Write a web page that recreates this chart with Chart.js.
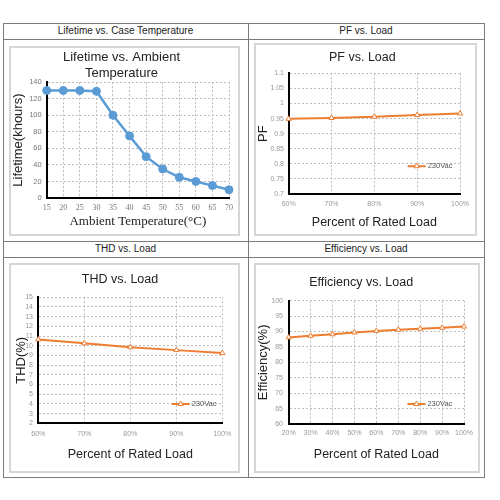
<!DOCTYPE html>
<html><head><meta charset="utf-8">
<script src="https://cdn.jsdelivr.net/npm/chart.js@4/dist/chart.umd.min.js"></script>
<style>
body{margin:0;width:500px;height:500px;background:#fff;position:relative;overflow:hidden;font-family:"Liberation Sans",Arial,sans-serif;}
.ln{position:absolute;background:#7a7a7a;}
.hdr{position:absolute;text-align:center;font-size:10px;color:#222;height:16px;line-height:16px;}
.box{position:absolute;border:2px solid #d6d6d6;box-sizing:border-box;}
.box canvas{position:absolute;left:0;top:0;}
</style>
</head><body>
<div class="ln" style="left:3px;top:23px;width:482px;height:1px"></div>
<div class="ln" style="left:3px;top:39px;width:482px;height:1px"></div>
<div class="ln" style="left:3px;top:241px;width:482px;height:1px"></div>
<div class="ln" style="left:3px;top:257px;width:482px;height:1px"></div>
<div class="ln" style="left:3px;top:477px;width:482px;height:1px"></div>
<div class="ln" style="left:3px;top:23px;width:1px;height:455px"></div>
<div class="ln" style="left:248px;top:23px;width:1px;height:455px"></div>
<div class="ln" style="left:484px;top:23px;width:1px;height:455px"></div>
<div class="hdr" style="left:3px;top:23px;width:245px">Lifetime vs. Case Temperature</div>
<div class="hdr" style="left:248px;top:23px;width:236px">PF vs. Load</div>
<div class="hdr" style="left:3px;top:241px;width:245px">THD vs. Load</div>
<div class="hdr" style="left:248px;top:241px;width:236px">Efficiency vs. Load</div>

<div class="box" style="left:9px;top:46px;width:231px;height:190px"><canvas id="c1" width="227" height="186"></canvas></div>
<div class="box" style="left:254px;top:43px;width:223px;height:193px"><canvas id="c2" width="219" height="189"></canvas></div>
<div class="box" style="left:9px;top:263px;width:231px;height:210px"><canvas id="c3" width="227" height="206"></canvas></div>
<div class="box" style="left:254px;top:263px;width:226px;height:210px"><canvas id="c4" width="222" height="206"></canvas></div>

<script>
// ---- data ----
const lifeTemps = ['15','20','25','30','35','40','45','50','55','60','65','70'];
const lifeHours = [130,130,130,129,100,75,50,35,25,20,15,10];
const pfLoads = ['60%','70%','80%','90%','100%'];
const pfValues = [0.949,0.952,0.956,0.962,0.967];
const thdLoads = ['60%','70%','80%','90%','100%'];
const thdValues = [10.65,10.25,9.85,9.55,9.25];
const effLoads = ['20%','30%','40%','50%','60%','70%','80%','90%','100%'];
const effValues = [88.1,88.6,89.1,89.7,90.2,90.6,90.9,91.2,91.6];
const seriesName = '230Vac';

const SANS = '"Liberation Sans", Arial, sans-serif';
const SERIF = '"Liberation Serif", "Times New Roman", serif';
Chart.defaults.animation = false;
Chart.defaults.font.family = SANS;

const legendPlugin = {
  id: 'innerLegend',
  afterDatasetsDraw(chart, args, opts) {
    if (!opts || !opts.display) return;
    const ctx = chart.ctx, a = chart.chartArea;
    const ds = chart.data.datasets[0];
    const x0 = a.right - opts.fromRight;
    const y = a.top + opts.yFrac * (a.bottom - a.top);
    ctx.save();
    ctx.strokeStyle = ds.borderColor;
    ctx.lineWidth = 2;
    ctx.beginPath(); ctx.moveTo(x0, y); ctx.lineTo(x0 + opts.lineLen, y); ctx.stroke();
    ctx.fillStyle = '#fff';
    ctx.lineWidth = 1;
    Chart.helpers.drawPoint(ctx, {pointStyle: ds.pointStyle, radius: ds.pointRadius, borderWidth: 1, rotation: 0}, x0 + opts.lineLen / 2, y);
    ctx.fillStyle = '#555';
    ctx.font = '7.5px ' + SANS;
    ctx.textBaseline = 'middle';
    ctx.textAlign = 'left';
    ctx.fillText(ds.label, x0 + opts.lineLen + 2, y);
    ctx.restore();
  }
};

const tickFmt = v => String(Number(Number(v).toFixed(3)));

function build(id, o) {
  const gridColor = c => (c.index === 0 ? 'rgba(0,0,0,0)' : '#bdbdbd');
  return new Chart(document.getElementById(id), {
    type: 'line',
    data: {
      labels: o.labels,
      datasets: [{
        label: o.name, data: o.values,
        borderColor: o.color, backgroundColor: o.pointFill,
        borderWidth: o.lineWidth, tension: 0, clip: false,
        pointStyle: o.pointStyle, pointRadius: o.pointRadius,
        pointBorderColor: o.color, pointBackgroundColor: o.pointFill, pointBorderWidth: 1
      }]
    },
    options: {
      responsive: false, animation: false,
      layout: {autoPadding: false, padding: {left: 0, right: o.padR, top: 0, bottom: 0}},
      plugins: {
        legend: {display: false}, tooltip: {enabled: false},
        title: {display: true, text: o.title, color: '#222',
          font: {size: o.titleSize, weight: 'normal', lineHeight: 1.2},
          padding: {top: o.titleTop, bottom: o.titleBottom}},
        innerLegend: o.legend || {display: false}
      },
      scales: {
        x: {
          offset: false,
          afterFit: s => { s.height = o.xH; },
          grid: {color: gridColor, lineWidth: 1, drawTicks: false},
          border: {color: '#000', width: 2, dash: [2, 2]},
          ticks: {color: o.xTickColor, font: {size: o.xTickSize, family: o.xTickFamily || SANS}, padding: o.xTickPad, maxRotation: 0, autoSkip: false},
          title: {display: true, text: o.xTitle, color: '#222', font: {size: o.xTitleSize, family: o.xTitleFamily || SANS}, padding: {top: 0, bottom: o.xTitlePad}}
        },
        y: {
          min: o.yMin, max: o.yMax,
          afterFit: s => { s.width = o.yW; },
          grid: {color: gridColor, lineWidth: 1, drawTicks: false},
          border: {color: '#000', width: 2, dash: [2, 2]},
          ticks: {stepSize: o.yStep, color: o.yTickColor, font: {size: o.yTickSize}, padding: o.yTickPad, autoSkip: false, callback: tickFmt},
          title: {display: true, text: o.yTitle, color: '#222', font: {size: o.yTitleSize}, padding: {top: o.yTitlePad, bottom: 0}}
        }
      }
    },
    plugins: [legendPlugin]
  });
}

build('c1', {
  labels: lifeTemps, values: lifeHours, name: 'Lifetime',
  color: '#5B9BD5', pointFill: '#5B9BD5', lineWidth: 2.5, pointStyle: 'circle', pointRadius: 4,
  title: ['Lifetime vs. Ambient', 'Temperature'], titleSize: 13, titleTop: 2, titleBottom: 1,
  padR: 6, xH: 36, yW: 35.7,
  xTickColor: '#777', xTickSize: 8, xTickFamily: SERIF, xTickPad: 5,
  xTitle: 'Ambient Temperature(°C)', xTitleSize: 13, xTitleFamily: SERIF, xTitlePad: 5,
  yMin: 0, yMax: 140, yStep: 20, yTickColor: '#777', yTickSize: 7.5, yTickPad: 5,
  yTitle: 'Lifetime(khours)', yTitleSize: 13, yTitlePad: 0
});

build('c2', {
  labels: pfLoads, values: pfValues, name: seriesName,
  color: '#ED7D31', pointFill: '#fff', lineWidth: 2, pointStyle: 'triangle', pointRadius: 3,
  title: 'PF vs. Load', titleSize: 12.5, titleTop: 5.5, titleBottom: 7.8,
  padR: 6.3, xH: 40, yW: 32.7,
  xTickColor: '#999', xTickSize: 7, xTickPad: 6,
  xTitle: 'Percent of Rated Load', xTitleSize: 12.5, xTitlePad: 4.2,
  yMin: 0.7, yMax: 1.1, yStep: 0.05, yTickColor: '#999', yTickSize: 7, yTickPad: 4.7,
  yTitle: 'PF', yTitleSize: 13, yTitlePad: 0,
  legend: {display: true, fromRight: 52.4, yFrac: 0.77, lineLen: 18}
});

build('c3', {
  labels: thdLoads, values: thdValues, name: seriesName,
  color: '#ED7D31', pointFill: '#fff', lineWidth: 2, pointStyle: 'triangle', pointRadius: 3,
  title: 'THD vs. Load', titleSize: 12.5, titleTop: 7.5, titleBottom: 9.8,
  padR: 9, xH: 47.7, yW: 27.3,
  xTickColor: '#999', xTickSize: 7, xTickPad: 6.7,
  xTitle: 'Percent of Rated Load', xTitleSize: 12.5, xTitlePad: 9.2,
  yMin: 2, yMax: 15, yStep: 1, yTickColor: '#999', yTickSize: 7, yTickPad: 5.3,
  yTitle: 'THD(%)', yTitleSize: 13, yTitlePad: 2.2,
  legend: {display: true, fromRight: 50.7, yFrac: 0.847, lineLen: 18}
});

build('c4', {
  labels: effLoads, values: effValues, name: seriesName,
  color: '#ED7D31', pointFill: '#fff', lineWidth: 2, pointStyle: 'triangle', pointRadius: 3,
  title: 'Efficiency vs. Load', titleSize: 12.5, titleTop: 10.2, titleBottom: 10.5,
  padR: 11.7, xH: 47, yW: 32.7,
  xTickColor: '#999', xTickSize: 7, xTickPad: 5,
  xTitle: 'Percent of Rated Load', xTitleSize: 12.5, xTitlePad: 9.2,
  yMin: 60, yMax: 100, yStep: 5, yTickColor: '#999', yTickSize: 7, yTickPad: 5.7,
  yTitle: 'Efficiency(%)', yTitleSize: 13, yTitlePad: 0,
  legend: {display: true, fromRight: 56.6, yFrac: 0.838, lineLen: 18}
});
</script>
</body></html>
